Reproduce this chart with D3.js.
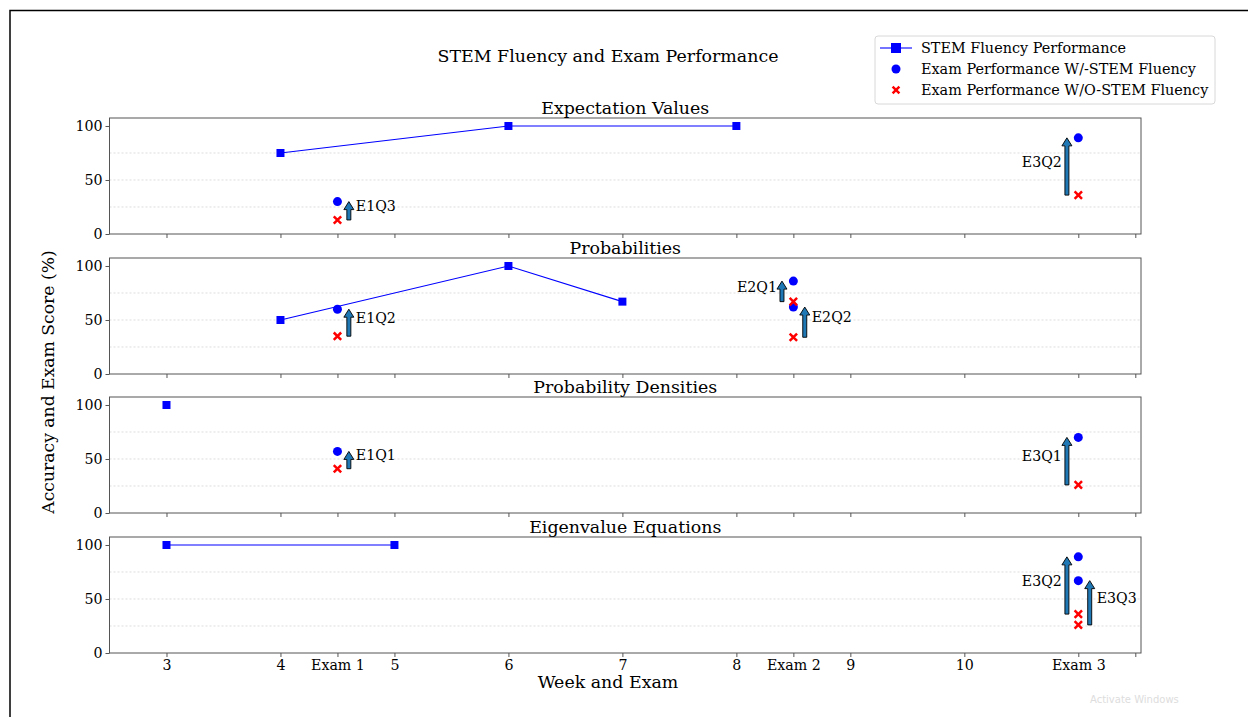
<!DOCTYPE html>
<html><head><meta charset="utf-8">
<script src="https://cdn.jsdelivr.net/npm/d3@7"></script>
<style>body{margin:0;background:#fff}svg{display:block;font-family:"DejaVu Serif",serif}</style>
</head><body><svg id="c" width="1248" height="717"></svg>
<script>
// ---- data ----
const xTickValues = [3, 4, 4.5, 5, 6, 7, 8, 8.5, 9, 10, 11, 11.5];
const xTickLabels = ["3", "4", "Exam 1", "5", "6", "7", "8", "Exam 2", "9", "10", "Exam 3", ""];
const yTickValues = [0, 50, 100];
const gridValues = [25, 50, 75];
const panelTitles = ["Expectation Values", "Probabilities", "Probability Densities", "Eigenvalue Equations"];
const stemX = [[4, 6, 8], [4, 6, 7], [3], [3, 5]];
const stemY = [[75, 100, 100], [50, 100, 67], [100], [100, 100]];
const withX = [[4.5, 11], [4.5, 8.5, 8.5], [4.5, 11], [11, 11]];
const withY = [[30, 89], [60, 86, 62], [57, 70], [89, 67]];
const withoutX = [[4.5, 11], [4.5, 8.5, 8.5], [4.5, 11], [11, 11]];
const withoutY = [[13, 36], [35, 67, 34], [41, 26], [36, 26]];
const arrowPanel = [0, 0, 1, 1, 1, 2, 2, 3, 3];
const arrowLabel = ["E1Q3", "E3Q2", "E1Q2", "E2Q1", "E2Q2", "E1Q1", "E3Q1", "E3Q2", "E3Q3"];
const arrowX = [4.6, 10.9, 4.6, 8.4, 8.6, 4.6, 10.9, 10.9, 11.1];
const arrowFrom = [13, 36, 35, 67, 34, 41, 26, 36, 26];
const arrowTo = [30, 89, 60, 86, 62, 57, 70, 89, 67];
const arrowSide = ["right", "left", "right", "left", "right", "right", "left", "left", "right"];
const legendLabels = ["STEM Fluency Performance", "Exam Performance W/-STEM Fluency", "Exam Performance W/O-STEM Fluency"];

// ---- layout ----
const svg = d3.select("#c");
const left = 109.5, right = 1141;
const panelBottoms = [234, 374, 513, 653];
const panelH = 116;
const x = d3.scaleLinear().domain([2.5, 11.55]).range([left, right]);
const blue = "#0000ff", red = "#ff0000", arrowFill = "#1f77b4";

// frame
svg.append("path").attr("d", "M10,717V10.5H1248").attr("fill", "none").attr("stroke", "#000").attr("stroke-width", 1.5);

// suptitle
svg.append("text").attr("x", 608).attr("y", 62).attr("text-anchor", "middle").attr("font-size", 17.4).text("STEM Fluency and Exam Performance");

panelTitles.forEach((title, i) => {
  const b = panelBottoms[i], t = b - panelH;
  const y = d3.scaleLinear().domain([0, 107.4]).range([b, t]);
  const g = svg.append("g");
  g.selectAll(".grid").data(gridValues).join("line")
    .attr("x1", left).attr("x2", right).attr("y1", d => y(d)).attr("y2", d => y(d))
    .attr("stroke", "#d4d4d4").attr("stroke-width", 0.8).attr("stroke-dasharray", "2,2");
  g.append("rect").attr("x", left).attr("y", t).attr("width", right - left).attr("height", panelH)
    .attr("fill", "none").attr("stroke", "#555").attr("stroke-width", 1);
  const xa = d3.axisBottom(x).tickValues(xTickValues).tickSize(4).tickPadding(3)
    .tickFormat((d, k) => i === 3 ? xTickLabels[k] : "");
  const gx = g.append("g").attr("transform", `translate(0,${b})`).call(xa);
  gx.select(".domain").remove();
  gx.selectAll("line").attr("stroke", "#555");
  gx.selectAll("text").attr("font-size", 14.2).attr("fill", "#000").attr("font-family", "DejaVu Serif");
  const ya = d3.axisLeft(y).tickValues(yTickValues).tickSize(4).tickPadding(3);
  const gy = g.append("g").attr("transform", `translate(${left},0)`).call(ya);
  gy.select(".domain").remove();
  gy.selectAll("line").attr("stroke", "#555");
  gy.selectAll("text").attr("font-size", 14.2).attr("fill", "#000").attr("font-family", "DejaVu Serif");
  g.append("text").attr("x", (left + right) / 2).attr("y", t - 4.5).attr("text-anchor", "middle").attr("font-size", 17.4).text(title);

  const pts = stemX[i].map((v, k) => [v, stemY[i][k]]);
  g.append("path").datum(pts).attr("d", d3.line().x(d => x(d[0])).y(d => y(d[1])))
    .attr("fill", "none").attr("stroke", blue).attr("stroke-width", 1.1);
  g.selectAll(".sq").data(pts).join("rect")
    .attr("x", d => x(d[0]) - 4).attr("y", d => y(d[1]) - 4).attr("width", 8).attr("height", 8).attr("fill", blue);

  arrowLabel.forEach((lab, k) => {
    if (arrowPanel[k] !== i) return;
    const ax = x(arrowX[k]), yb = y(arrowFrom[k]), yt = y(arrowTo[k]);
    const hw = 5, sw = 2, hl = 8;
    const p = d3.path();
    p.moveTo(ax - sw, yb); p.lineTo(ax - sw, yt + hl); p.lineTo(ax - hw, yt + hl); p.lineTo(ax, yt);
    p.lineTo(ax + hw, yt + hl); p.lineTo(ax + sw, yt + hl); p.lineTo(ax + sw, yb); p.closePath();
    g.append("path").attr("d", p.toString()).attr("fill", arrowFill).attr("stroke", "#000").attr("stroke-width", 0.9);
    const my = y((arrowFrom[k] + arrowTo[k]) / 2 + 4.5);
    g.append("text").attr("x", arrowSide[k] === "right" ? ax + 7 : ax - 5).attr("y", my + 5)
      .attr("text-anchor", arrowSide[k] === "right" ? "start" : "end").attr("font-size", 14.2).text(lab);
  });

  g.selectAll(".dot").data(withX[i].map((v, k) => [v, withY[i][k]])).join("circle")
    .attr("cx", d => x(d[0])).attr("cy", d => y(d[1])).attr("r", 4.5).attr("fill", blue);
  g.selectAll(".xm").data(withoutX[i].map((v, k) => [v, withoutY[i][k]])).join("path")
    .attr("d", d => { const cx = x(d[0]), cy = y(d[1]), s = 3.7; return `M${cx - s},${cy - s}L${cx + s},${cy + s}M${cx - s},${cy + s}L${cx + s},${cy - s}`; })
    .attr("stroke", red).attr("stroke-width", 2.5).attr("fill", "none");
});

// axis labels
svg.append("text").attr("x", 608).attr("y", 688).attr("text-anchor", "middle").attr("font-size", 17.4).text("Week and Exam");
svg.append("text").attr("transform", "translate(54,382) rotate(-90)").attr("text-anchor", "middle").attr("font-size", 17.2).text("Accuracy and Exam Score (%)");

// legend
const lg = svg.append("g");
lg.append("rect").attr("x", 875).attr("y", 36).attr("width", 340).attr("height", 68).attr("rx", 3)
  .attr("fill", "#fff").attr("stroke", "#d8d8d8");
const rowY = [48, 69, 90];
legendLabels.forEach((lab, k) => {
  const cy = rowY[k];
  if (k === 0) {
    lg.append("line").attr("x1", 880).attr("x2", 912).attr("y1", cy).attr("y2", cy).attr("stroke", blue).attr("stroke-width", 1.1);
    lg.append("rect").attr("x", 891).attr("y", cy - 5).attr("width", 10).attr("height", 10).attr("fill", blue);
  } else if (k === 1) {
    lg.append("circle").attr("cx", 896).attr("cy", cy).attr("r", 4.5).attr("fill", blue);
  } else {
    const s = 3.4;
    lg.append("path").attr("d", `M${896 - s},${cy - s}L${896 + s},${cy + s}M${896 - s},${cy + s}L${896 + s},${cy - s}`)
      .attr("stroke", red).attr("stroke-width", 2.5);
  }
  lg.append("text").attr("x", 921).attr("y", cy + 5).attr("font-size", 14.4).text(lab);
});

svg.append("text").attr("x", 1090).attr("y", 703).attr("font-size", 10).attr("fill", "#ddd").attr("font-family", "DejaVu Sans").text("Activate Windows");
</script></body></html>
